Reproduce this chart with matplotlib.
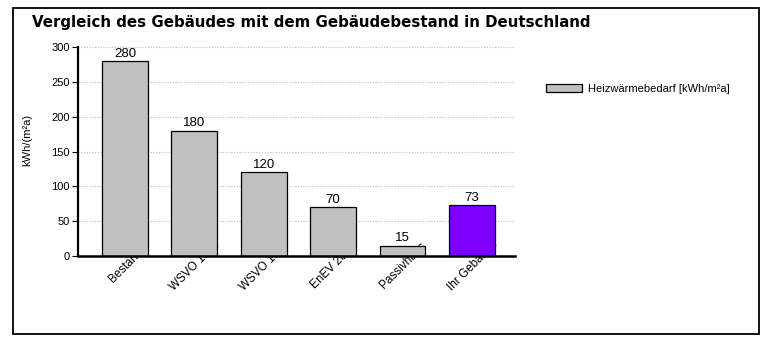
import matplotlib
matplotlib.use("Agg")
import matplotlib.pyplot as plt
from matplotlib.patches import Rectangle
import matplotlib.transforms as mtransforms

plt.rcParams['font.family'] = ['Liberation Sans', 'DejaVu Sans']

categories = ["Bestand", "WSVO 1984", "WSVO 1995", "EnEV 2002", "Passivhaus", "Ihr Gebäude"]
values = [280, 180, 120, 70, 15, 73]
colors = ["#c0c0c0", "#c0c0c0", "#c0c0c0", "#c0c0c0", "#c0c0c0", "#7f00ff"]
series_name = "Heizwärmebedarf [kWh/m²a]"
title = "Vergleich des Gebäudes mit dem Gebäudebestand in Deutschland"
ylabel = "kWh/(m²a)"
yticks = [0, 50, 100, 150, 200, 250, 300]

W, H = 778, 343
fig = plt.figure(figsize=(W / 100, H / 100), dpi=100)

# outer border
fig.patches.append(Rectangle((13 / W, 1 - 334 / H), (759 - 13) / W, (334 - 8) / H,
                             transform=fig.transFigure, fill=False, lw=1.3,
                             edgecolor='black'))

fig.text(32 / W, 1 - 22 / H, title, fontsize=10.8, fontweight='bold',
         family=['DejaVu Sans'], va='center', ha='left')

ax = fig.add_axes([78 / W, 1 - 256 / H, (515 - 78) / W, (256 - 47) / H])
x = list(range(len(categories)))
bars = ax.bar(x, values, width=0.66, color=colors, edgecolor='black',
              linewidth=0.9, zorder=2)
bars[0].set_label(series_name)
ax.bar_label(bars, labels=[str(v) for v in values], padding=1, fontsize=9.5)

ax.set_xlim(-0.677, 5.62)
ax.set_ylim(0, 300)
ax.set_yticks(yticks)
ax.tick_params(axis='y', labelsize=8, length=4, width=0.8, pad=2)
ax.set_xticks([])
ax.yaxis.grid(True, linestyle=(0, (1, 1.5)), color='#bdbdbd', linewidth=0.8, zorder=0)
ax.set_axisbelow(True)
for s in ['top', 'right']:
    ax.spines[s].set_visible(False)
ax.spines['left'].set_linewidth(1.6)
ax.spines['bottom'].set_linewidth(1.8)
ax.spines['bottom'].set_zorder(3)

# category labels: centred on tick just below axis, partially hidden by bars
off = mtransforms.ScaledTranslation(1 / 100, -10 / 100, fig.dpi_scale_trans)
for i, c in enumerate(categories):
    ax.text(i, 0, c, transform=ax.get_xaxis_transform() + off, rotation=45,
            ha='center', va='center', rotation_mode='anchor', fontsize=8.5,
            clip_on=False, zorder=1)

fig.text(27 / W, 1 - 140 / H, ylabel, rotation=90, fontsize=8,
         ha='center', va='center')

fig.legend(handles=[bars[0]], labels=[series_name], loc='upper left',
           bbox_to_anchor=(536 / W, 1 - 74 / H), frameon=False, fontsize=8,
           handlelength=3.2, handleheight=0.7, handletextpad=0.6)

fig.savefig("out.png", dpi=100)
